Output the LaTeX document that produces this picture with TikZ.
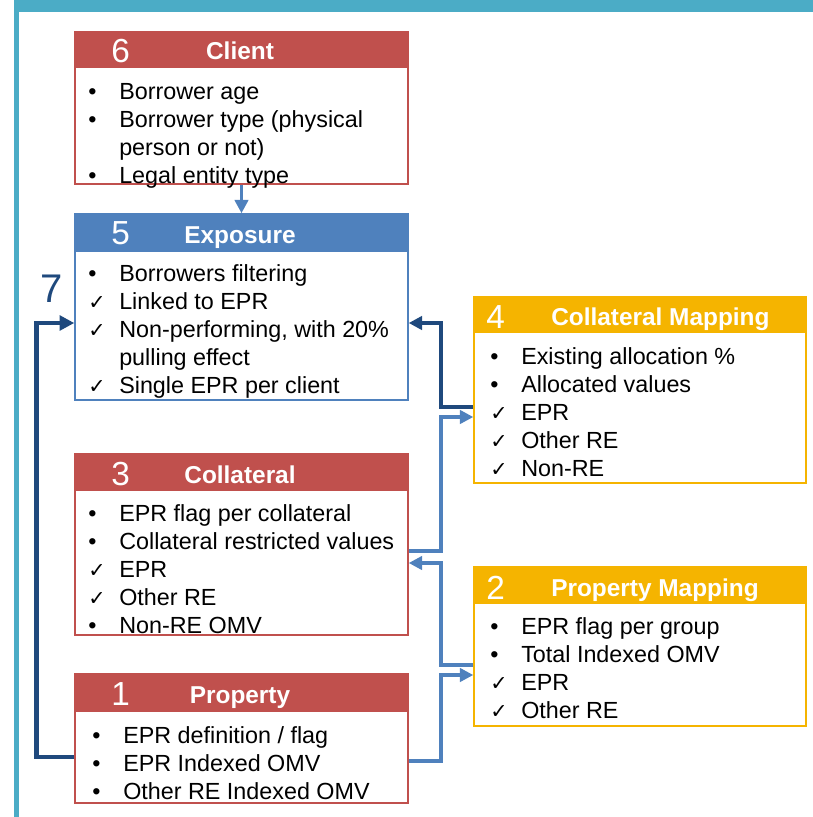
\documentclass[tikz,border=0pt]{standalone}
\usepackage{fontspec}
\setmainfont{Liberation Sans}
\newfontfamily\symfont{DejaVu Sans}
\usetikzlibrary{fit,arrows.meta}

\definecolor{hdrred}{HTML}{C0504D}
\definecolor{hdrblue}{HTML}{4F81BD}
\definecolor{hdrgold}{HTML}{F5B400}
\definecolor{frameteal}{HTML}{4BACC6}
\definecolor{linkblue}{HTML}{4F81BD}
\definecolor{navy}{HTML}{1F497D}

% list markers
\newcommand{\bul}{\textbullet}
\newcommand{\chk}{{\symfont\fontsize{15.5}{15.5}\selectfont ✓}}
% two-column list: marker column, then text column
\newenvironment{itemlist}{\begin{tabular}[t]{@{}p{23.25pt}@{}l@{}}}{\end{tabular}}

\begin{document}
\begin{tikzpicture}[x=0.75pt, y=-0.75pt,
  panel/.style={draw=#1, line width=1.1pt, inner sep=0pt},
  title/.style={text=white, font=\bfseries\fontsize{18.3}{18.3}\selectfont, inner sep=0pt},
  num/.style={text=white, font=\fontsize{25}{25}\selectfont, anchor=base west, inner sep=0pt},
  items/.style={anchor=base west, inner sep=0pt, font=\fontsize{17.5}{21}\selectfont},
  link/.style={draw=linkblue, line width=2.4pt, -{Triangle[length=10pt,width=10pt]}},
  navylink/.style={draw=navy, line width=2.5pt, -{Triangle[length=10pt,width=10pt]}},
  navyloop/.style={draw=navy, line width=3.6pt, -{Triangle[length=11pt,width=11pt]}}]

\useasboundingbox (0,0) rectangle (813,817);

% outer frame
\fill[frameteal] (14,0) rectangle (813,12);
\fill[frameteal] (14,0) rectangle (19,817);

% ---- 6 Client
\fill[hdrred] (75,32) rectangle (408,68);
\node[panel=hdrred, fit={(75,32)(408,184)}] (client) {};
\node[num] at (111,63) {6};
\node[title, anchor=base] at (240,60) {Client};
\node[items] (clientlist) at (88,99.5) {\begin{itemlist}
\bul & Borrower age\\
\bul & Borrower type (physical\\
     & person or not)\\
\bul & Legal entity type
\end{itemlist}};

% ---- 5 Exposure
\fill[hdrblue] (75,214) rectangle (408,252);
\node[panel=hdrblue, fit={(75,214)(408,400)}] (expo) {};
\node[num] at (111,244) {5};
\node[title, anchor=base] at (240,243) {Exposure};
\node[items] (expolist) at (88,281) {\begin{itemlist}
\bul & Borrowers filtering\\
\chk & Linked to EPR\\
\chk & Non-performing, with 20\%\\
     & pulling effect\\
\chk & Single EPR per client
\end{itemlist}};

% ---- 3 Collateral
\fill[hdrred] (75,454) rectangle (408,491);
\node[panel=hdrred, fit={(75,454)(408,635)}] (coll) {};
\node[num] at (111,485) {3};
\node[title, anchor=base] at (240,483) {Collateral};
\node[items] (colllist) at (88,521) {\begin{itemlist}
\bul & EPR flag per collateral\\
\bul & Collateral restricted values\\
\chk & EPR\\
\chk & Other RE\\
\bul & Non-RE OMV
\end{itemlist}};

% ---- 1 Property
\fill[hdrred] (75,674) rectangle (408,712);
\node[panel=hdrred, fit={(75,674)(408,803)}] (prop) {};
\node[num] at (111,705) {1};
\node[title, anchor=base] at (240,703) {Property};
\node[items] (proplist) at (92,743) {\begin{itemlist}
\bul & EPR definition / flag\\
\bul & EPR Indexed OMV\\
\bul & Other RE Indexed OMV
\end{itemlist}};

% ---- 4 Collateral Mapping
\fill[hdrgold] (474,297) rectangle (806,333);
\node[panel=hdrgold, fit={(474,297)(806,483)}] (cmap) {};
\node[num] at (486,328) {4};
\node[title, anchor=base west] at (551,325) {Collateral Mapping};
\node[items] (cmaplist) at (490,364) {\begin{itemlist}
\bul & Existing allocation \%\\
\bul & Allocated values\\
\chk & EPR\\
\chk & Other RE\\
\chk & Non-RE
\end{itemlist}};

% ---- 2 Property Mapping
\fill[hdrgold] (474,567) rectangle (806,604);
\node[panel=hdrgold, fit={(474,567)(806,726)}] (pmap) {};
\node[num] at (486,599) {2};
\node[title, anchor=base west] at (551,596) {Property Mapping};
\node[items] (pmaplist) at (490,634) {\begin{itemlist}
\bul & EPR flag per group\\
\bul & Total Indexed OMV\\
\chk & EPR\\
\chk & Other RE
\end{itemlist}};

% ---- connectors
\draw[link] (client.south) -- (expo.north);
\draw[link] (prop.east |- 0,761) -- (441,761) -- (441,675) -- (pmap.west |- 0,675);
\draw[link] (pmap.west |- 0,665) -- (441,665) -- (441,563) -- (coll.east |- 0,563);
\draw[link] (coll.east |- 0,551) -- (441,551) -- (441,417) -- (cmap.west |- 0,417);
\draw[navylink] (cmap.west |- 0,407) -- (441,407) -- (441,323) -- (expo.east |- 0,323);
\draw[navyloop] (prop.west |- 0,757) -- (36.5,757) -- (36.5,323) -- (expo.west |- 0,323);
\node[text=navy, font=\fontsize{30}{30}\selectfont, anchor=base west, inner sep=0pt] (loopnum) at (40,302) {7};

\end{tikzpicture}
\end{document}
